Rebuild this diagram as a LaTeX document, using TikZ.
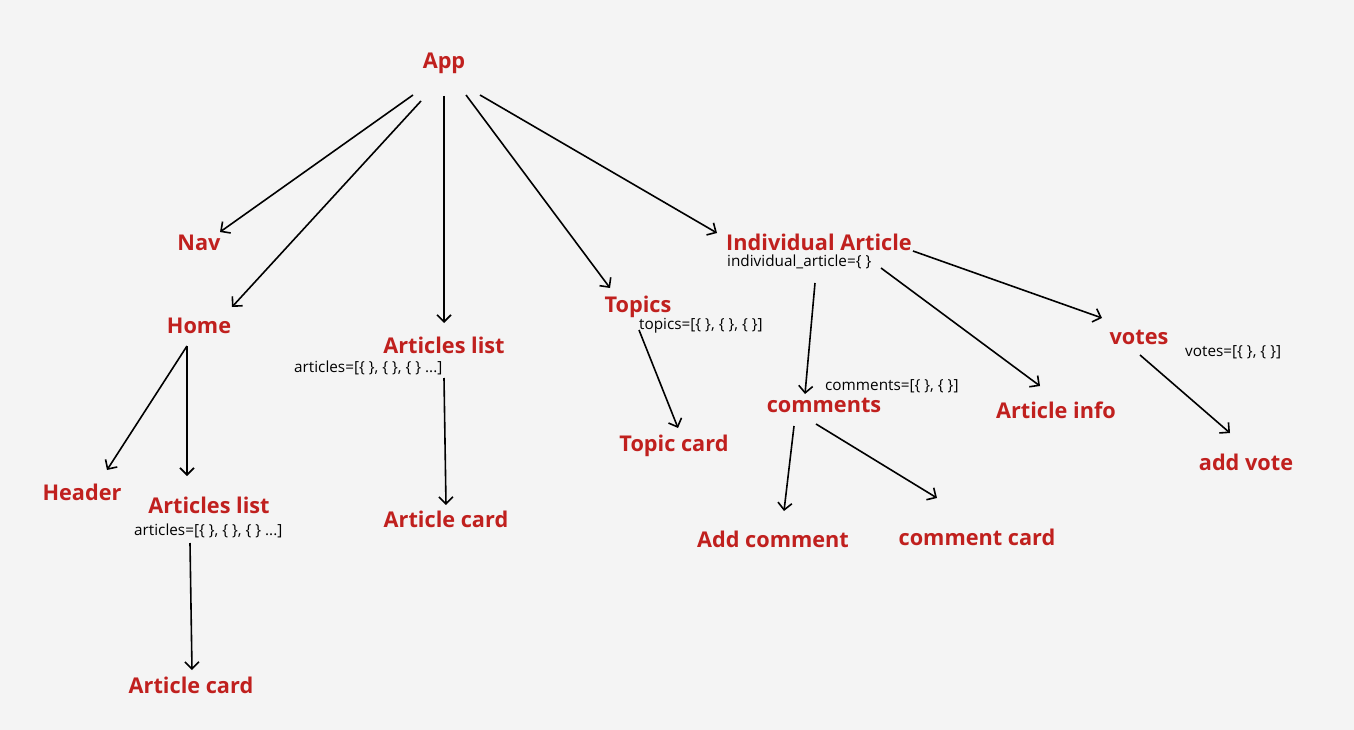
\documentclass[tikz,border=0pt]{standalone}
\usepackage{fontspec}
\setmainfont{Open Sans}
\usetikzlibrary{arrows.meta}
\definecolor{labelred}{HTML}{C0201E}
\definecolor{paper}{HTML}{F4F4F4}

\begin{document}
\begin{tikzpicture}[x=1pt,y=-1pt,
  comp/.style={text=labelred,font=\fontsize{21.7}{26}\selectfont\bfseries,inner sep=0pt},
  prop/.style={font=\fontsize{15.3}{18}\selectfont,inner sep=0pt,anchor=west},
  link/.style={-{Straight Barb[length=7pt,width=14pt]},line width=1.6pt}]
  \fill[paper] (0,0) rectangle (1354,730);
  \useasboundingbox (0,0) rectangle (1354,730);
  %top
  \node[comp] (app) at (444,63) {App};
  %left
  \node[comp] (nav) at (199,243) {Nav};
  \node[comp] (home) at (199,326) {Home};
  \node[comp] (header) at (82,492) {Header};
  \node[comp] (homelist) at (209,505) {Articles list};
  \node[prop] at (134,531) {articles=[\{ \}, \{ \}, \{ \} ...]};
  \node[comp] (homecard) at (191,685) {Article card};
  %middle
  \node[comp] (list) at (444,345) {Articles list};
  \node[prop] at (294,368) {articles=[\{ \}, \{ \}, \{ \} ...]};
  \node[comp] (card) at (446,519) {Article card};
  \node[comp] (topics) at (638,307) {Topics};
  \node[prop] at (639,326) {topics=[\{ \}, \{ \}, \{ \}]};
  \node[comp] (topiccard) at (674,446) {Topic card};
  %right
  \node[comp] (single) at (819,242) {Individual Article};
  \node[prop] at (727,262) {individual\_article=\{ \}};
  \node[comp] (comments) at (824,405) {comments};
  \node[prop] at (825,386) {comments=[\{ \}, \{ \}]};
  \node[comp] (addcomment) at (773,539) {Add comment};
  \node[comp] (commentcard) at (977,537) {comment card};
  \node[comp] (info) at (1056,410) {Article info};
  \node[comp] (votes) at (1139,337) {votes};
  \node[prop] at (1185,352) {votes=[\{ \}, \{ \}]};
  \node[comp] (addvote) at (1246,462) {add vote};

  \draw[link] ([shift={(-31,32)}]app.center) -- ([shift={(21,-11)}]nav.center);
  \draw[link] ([shift={(-23,38)}]app.center) -- ([shift={(33,-19)}]home.center);
  \draw[link] ([shift={(0,33)}]app.center) -- ([shift={(0,-22)}]list.center);
  \draw[link] ([shift={(22,32)}]app.center) -- ([shift={(-28,-19)}]topics.center);
  \draw[link] ([shift={(36,32)}]app.center) -- ([shift={(-102,-9)}]single.center);
  \draw[link] ([shift={(-12,20)}]home.center) -- ([shift={(25,-22)}]header.center);
  \draw[link] ([shift={(-12,20)}]home.center) -- ([shift={(-22,-29)}]homelist.center);
  \draw[link] ([shift={(-19,38)}]homelist.center) -- ([shift={(1,-15)}]homecard.center);
  \draw[link] ([shift={(0,33)}]list.center) -- ([shift={(0,-14)}]card.center);
  \draw[link] ([shift={(1,23)}]topics.center) -- ([shift={(4,-18)}]topiccard.center);
  \draw[link] ([shift={(-4,41)}]single.center) -- ([shift={(-19,-11)}]comments.center);
  \draw[link] ([shift={(62,26)}]single.center) -- ([shift={(-16,-24)}]info.center);
  \draw[link] ([shift={(94,9)}]single.center) -- ([shift={(-37,-19)}]votes.center);
  \draw[link] ([shift={(1,18)}]votes.center) -- ([shift={(-16,-29)}]addvote.center);
  \draw[link] ([shift={(-30,21)}]comments.center) -- ([shift={(11,-28)}]addcomment.center);
  \draw[link] ([shift={(-8,19)}]comments.center) -- ([shift={(-40,-39)}]commentcard.center);
\end{tikzpicture}
\end{document}
